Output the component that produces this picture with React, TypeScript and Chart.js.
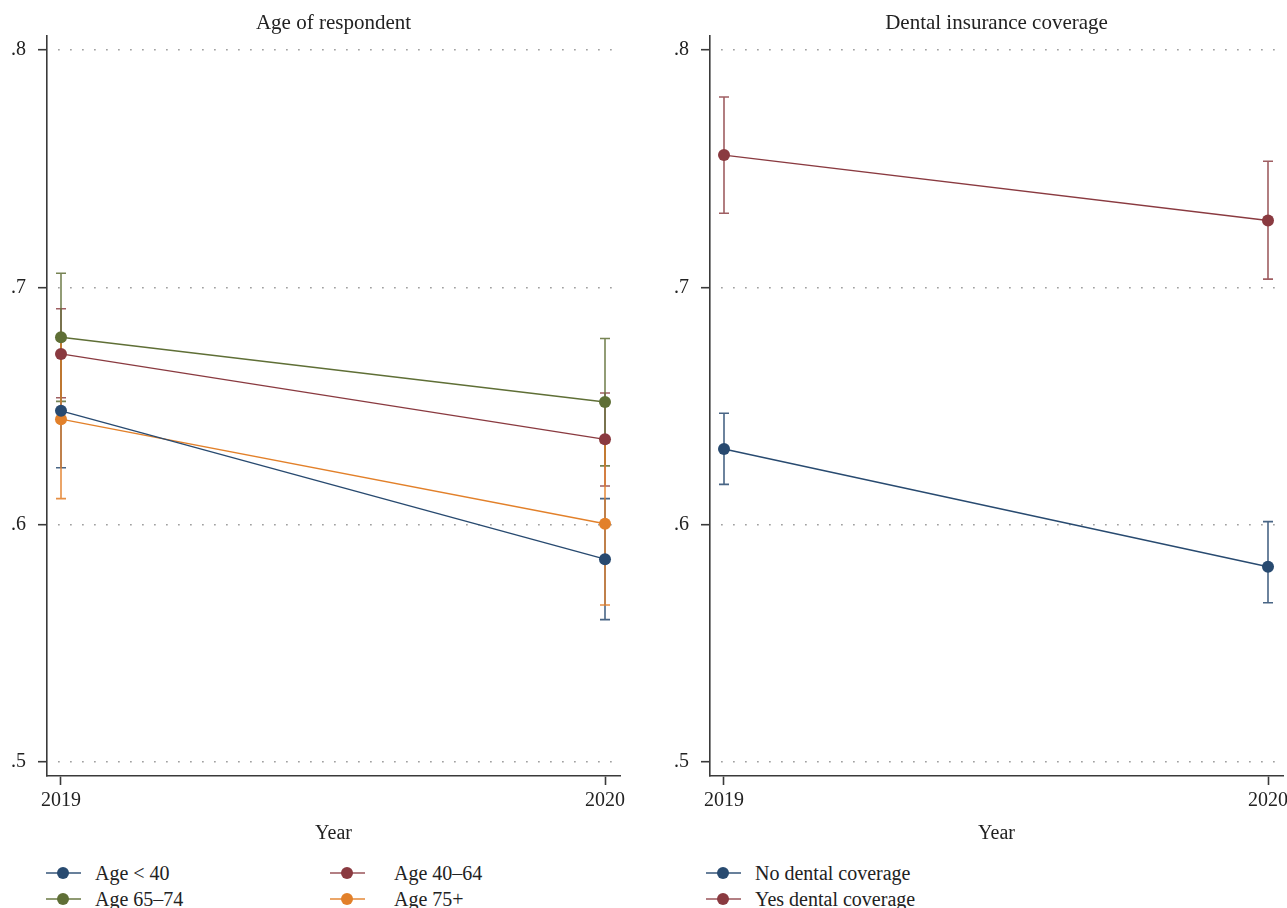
import React, { useEffect, useRef } from "react";
import { Chart, registerables } from "chart.js";

Chart.register(...registerables);

// ---------- data ----------
const xTicks = [2019, 2020];
const yTicks = [0.5, 0.6, 0.7, 0.8];

const ageTitle = "Age of respondent";
const ageLabels = ["Age < 40", "Age 40–64", "Age 65–74", "Age 75+"];
const ageLt40 = [0.648, 0.5855];
const ageLt40Lo = [0.624, 0.56];
const ageLt40Hi = [0.672, 0.611];
const age4064 = [0.672, 0.636];
const age4064Lo = [0.6535, 0.6163];
const age4064Hi = [0.691, 0.6555];
const age6574 = [0.679, 0.6517];
const age6574Lo = [0.652, 0.6248];
const age6574Hi = [0.706, 0.6785];
const age75 = [0.6445, 0.6004];
const age75Lo = [0.611, 0.5662];
const age75Hi = [0.678, 0.6346];

const dentalTitle = "Dental insurance coverage";
const dentalLabels = ["No dental coverage", "Yes dental coverage"];
const dentalNo = [0.6319, 0.5823];
const dentalNoLo = [0.617, 0.5671];
const dentalNoHi = [0.647, 0.6013];
const dentalYes = [0.7558, 0.7282];
const dentalYesLo = [0.7313, 0.7035];
const dentalYesHi = [0.7803, 0.7532];

// ---------- styles ----------
const BLUE = "#284a70";
const RED = "#8a3a40";
const GREEN = "#5f6f36";
const ORANGE = "#e2802a";
const BLUE_L = "rgba(40,74,112,0.85)";
const RED_L = "rgba(138,58,64,0.82)";
const GREEN_L = "rgba(95,111,54,0.85)";
const ORANGE_L = "rgba(226,128,42,0.88)";
const BLUE_LEG = "rgba(40,74,112,0.7)";
const RED_LEG = "rgba(138,58,64,0.65)";
const GREEN_LEG = "rgba(95,111,54,0.7)";
const ORANGE_LEG = "rgba(226,128,42,0.7)";

const FONT = "'Liberation Serif', 'Times New Roman', serif";
const AXIS = "#3a3a3a";
const TEXT = "#222222";

const errorBarPlugin = {
  id: "errorBars",
  beforeDatasetsDraw(chart: any) {
    const { ctx } = chart;
    const x = chart.scales.x;
    const y = chart.scales.y;
    chart.data.datasets.forEach((ds: any) => {
      ds.data.forEach((p: any, i: number) => {
        const px = x.getPixelForValue(p.x);
        const lo = y.getPixelForValue(ds.errLo[i]);
        const hi = y.getPixelForValue(ds.errHi[i]);
        ctx.save();
        ctx.strokeStyle = ds.errColor;
        ctx.lineWidth = 1.6;
        ctx.beginPath();
        ctx.moveTo(px, lo);
        ctx.lineTo(px, hi);
        ctx.moveTo(px - 5, lo);
        ctx.lineTo(px + 5, lo);
        ctx.moveTo(px - 5, hi);
        ctx.lineTo(px + 5, hi);
        ctx.stroke();
        ctx.restore();
      });
    });
  },
};

function makeDataset(label: string, vals: number[], lo: number[], hi: number[], color: string, light: string) {
  return {
    label,
    data: xTicks.map((yr, i) => ({ x: yr, y: vals[i] })),
    errLo: lo,
    errHi: hi,
    errColor: light,
    borderColor: color,
    backgroundColor: color,
    borderWidth: 1.4,
    pointRadius: 6,
    pointHoverRadius: 6,
    pointBorderWidth: 0,
    pointBackgroundColor: color,
    tension: 0,
  };
}

function makeOptions(title: string) {
  return {
    responsive: false,
    animation: false as const,
    layout: { padding: { left: 0, right: 20, top: 0, bottom: 0 } },
    plugins: {
      legend: { display: false },
      tooltip: { enabled: false },
      title: {
        display: true,
        text: title,
        fullSize: false,
        color: TEXT,
        font: { family: FONT, size: 21, weight: "normal" as const, lineHeight: 1.2 },
        padding: { top: 11, bottom: 0 },
      },
    },
    scales: {
      x: {
        type: "linear" as const,
        min: 2019 - 14 / 544,
        max: 2020 + 15 / 544,
        afterBuildTicks: (s: any) => {
          s.ticks = xTicks.map((v) => ({ value: v }));
        },
        afterFit: (s: any) => {
          s.height = 70;
        },
        ticks: {
          color: TEXT,
          font: { family: FONT, size: 20 },
          padding: 4,
          maxRotation: 0,
          autoSkip: false,
          callback: (v: any) => String(v),
        },
        grid: {
          display: true,
          drawOnChartArea: false,
          drawTicks: true,
          tickLength: 9,
          tickColor: AXIS,
          tickWidth: 1.6,
        },
        border: { display: true, color: AXIS, width: 1.6 },
        title: {
          display: true,
          text: "Year",
          color: TEXT,
          font: { family: FONT, size: 20, lineHeight: 1.2 },
          padding: { top: 2, bottom: 0 },
        },
      },
      y: {
        type: "linear" as const,
        min: 0.5 - 14 / 2373,
        max: 0.8 + 14 / 2373,
        afterBuildTicks: (s: any) => {
          s.ticks = yTicks.map((v) => ({ value: v }));
        },
        afterFit: (s: any) => {
          s.width = 47;
        },
        ticks: {
          color: TEXT,
          font: { family: FONT, size: 20 },
          padding: 12,
          autoSkip: false,
          callback: (v: any) => String(v).replace(/^0/, ""),
        },
        grid: {
          display: true,
          drawOnChartArea: true,
          drawTicks: true,
          color: "#8a8a8a",
          lineWidth: 1.4,
          tickLength: 9,
          tickColor: AXIS,
          tickWidth: 1.6,
          tickBorderDash: [],
        },
        border: { display: true, color: AXIS, width: 1.6, dash: [1.4, 10.6], dashOffset: 1.4 },
      },
    },
  };
}

function Panel(props: { left: number; title: string; datasets: any[] }) {
  const ref = useRef<HTMLCanvasElement | null>(null);
  useEffect(() => {
    if (!ref.current) return;
    const chart = new Chart(ref.current, {
      type: "line",
      data: { datasets: props.datasets },
      options: makeOptions(props.title) as any,
      plugins: [errorBarPlugin],
    });
    return () => chart.destroy();
  }, []);
  return (
    <canvas
      ref={ref}
      width={640}
      height={846}
      style={{ position: "absolute", left: props.left, top: 0, width: 640, height: 846 }}
    />
  );
}

function LegendItem(props: { x: number; y: number; textX: number; color: string; light: string; label: string }) {
  return (
    <>
      <div
        style={{
          position: "absolute",
          left: props.x - 17,
          top: props.y - 1,
          width: 35,
          height: 2,
          background: props.light,
        }}
      />
      <div
        style={{
          position: "absolute",
          left: props.x - 6,
          top: props.y - 6,
          width: 12,
          height: 12,
          borderRadius: 6,
          background: props.color,
        }}
      />
      <div
        style={{
          position: "absolute",
          left: props.textX,
          top: props.y - 12,
          height: 24,
          lineHeight: "24px",
          fontFamily: FONT,
          fontSize: 20,
          color: TEXT,
          whiteSpace: "nowrap",
        }}
      >
        {props.label}
      </div>
    </>
  );
}

export default function App() {
  const ageDatasets = [
    makeDataset(ageLabels[0], ageLt40, ageLt40Lo, ageLt40Hi, BLUE, BLUE_L),
    makeDataset(ageLabels[1], age4064, age4064Lo, age4064Hi, RED, RED_L),
    makeDataset(ageLabels[2], age6574, age6574Lo, age6574Hi, GREEN, GREEN_L),
    makeDataset(ageLabels[3], age75, age75Lo, age75Hi, ORANGE, ORANGE_L),
  ];
  const dentalDatasets = [
    makeDataset(dentalLabels[0], dentalNo, dentalNoLo, dentalNoHi, BLUE, BLUE_L),
    makeDataset(dentalLabels[1], dentalYes, dentalYesLo, dentalYesHi, RED, RED_L),
  ];
  return (
    <div
      style={{
        position: "absolute",
        left: 0,
        top: 0,
        width: 1287,
        height: 908,
        overflow: "hidden",
        background: "#ffffff",
      }}
    >
      <Panel left={0} title={ageTitle} datasets={ageDatasets} />
      <Panel left={663} title={dentalTitle} datasets={dentalDatasets} />
      <LegendItem x={63} y={873} textX={95} color={BLUE} light={BLUE_LEG} label={ageLabels[0]} />
      <LegendItem x={347} y={873} textX={394} color={RED} light={RED_LEG} label={ageLabels[1]} />
      <LegendItem x={63} y={899} textX={95} color={GREEN} light={GREEN_LEG} label={ageLabels[2]} />
      <LegendItem x={347} y={899} textX={394} color={ORANGE} light={ORANGE_LEG} label={ageLabels[3]} />
      <LegendItem x={723} y={873} textX={755} color={BLUE} light={BLUE_LEG} label={dentalLabels[0]} />
      <LegendItem x={723} y={899} textX={755} color={RED} light={RED_LEG} label={dentalLabels[1]} />
    </div>
  );
}
